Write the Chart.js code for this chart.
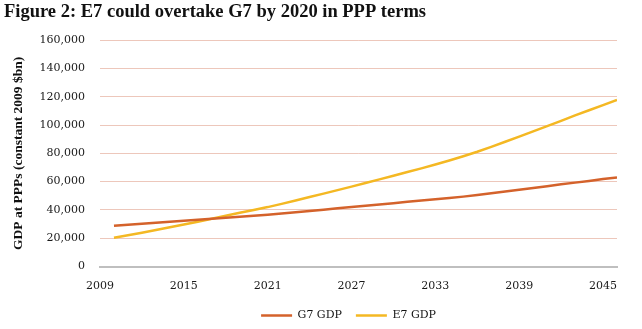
<!DOCTYPE html>
<html>
<head>
<meta charset="utf-8">
<script src="https://cdn.jsdelivr.net/npm/chart.js@4"></script>
<style>
  html, body { margin: 0; padding: 0; background: #fff; }
  #wrap { width: 642px; height: 329px; }
</style>
</head>
<body>
<div id="wrap"><canvas id="chart" width="642" height="329"></canvas></div>
<script>
// years the series cover, and the labelled years on the x axis
const years = [2010, 2011, 2012, 2013, 2014, 2015, 2016, 2017, 2018, 2019,
               2020, 2021, 2022, 2023, 2024, 2025, 2026, 2027, 2028, 2029,
               2030, 2031, 2032, 2033, 2034, 2035, 2036, 2037, 2038, 2039,
               2040, 2041, 2042, 2043, 2044, 2045, 2046];
const yearTicks = [2009, 2015, 2021, 2027, 2033, 2039, 2045];

// GDP at PPPs, constant 2009 $bn
const g7Gdp = [28800, 29500, 30200, 30900, 31600, 32300, 33000, 33800, 34500, 35200,
               35900, 36600, 37500, 38400, 39300, 40200, 41100, 42100, 43000, 43900,
               44800, 45700, 46600, 47500, 48400, 49400, 50600, 51800, 53000, 54200,
               55500, 56800, 58100, 59300, 60500, 61800, 63000];
const e7Gdp = [20300, 22100, 23900, 25800, 27700, 29700, 31700, 33800, 35900, 38000,
               40000, 42000, 44300, 46700, 49100, 51500, 54000, 56500, 59000, 61600,
               64200, 66800, 69400, 72100, 74900, 77900, 81100, 84600, 88200, 91800,
               95500, 99200, 103000, 106800, 110500, 114100, 117700];

const serif = "'DejaVu Serif', 'Liberation Serif', serif";

toPoints = (values) => {
    let out = [];
    values.forEach((v, i) => {
        out.push({ x: years[i], y: v });
    });
    return out;
}

// nudge the legend a little left of the plot centre, as in the original
const legendShift = {
    id: 'legendShift',
    afterLayout: (chart) => {
        chart.legend.left -= 10;
        chart.legend.right -= 10;
    }
};

new Chart(document.getElementById('chart').getContext('2d'), {
    type: 'line',
    data: {
        datasets: [
            {
                label: 'G7 GDP',
                data: toPoints(g7Gdp),
                borderColor: '#d4622b',
                backgroundColor: '#d4622b',
                borderWidth: 2.5
            },
            {
                label: 'E7 GDP',
                data: toPoints(e7Gdp),
                borderColor: '#f4b823',
                backgroundColor: '#f4b823',
                borderWidth: 2.5
            }
        ]
    },
    plugins: [legendShift],
    options: {
        responsive: false,
        animation: false,
        layout: {
            padding: { left: 4, right: 25, top: 0, bottom: -2 }
        },
        elements: {
            point: { radius: 0 },
            line: { tension: 0 }
        },
        scales: {
            x: {
                type: 'linear',
                min: 2009,
                max: 2046,
                afterBuildTicks: (axis) => {
                    axis.ticks = yearTicks.map(v => ({ value: v }));
                },
                afterFit: (axis) => {
                    axis.height = 29.5;
                },
                grid: { display: false, drawTicks: false },
                border: { display: true, color: '#bfbfbf', width: 2 },
                ticks: {
                    color: '#1a1a1a',
                    font: { family: serif, size: 11 },
                    padding: 13.5,
                    maxRotation: 0,
                    autoSkip: false,
                    callback: (v) => String(v)
                }
            },
            y: {
                min: 0,
                max: 160000,
                afterFit: (axis) => {
                    axis.width = 96;
                },
                ticks: {
                    stepSize: 20000,
                    color: '#1a1a1a',
                    font: { family: serif, size: 11 },
                    padding: 15,
                    callback: (v) => v.toLocaleString('en-US')
                },
                grid: {
                    color: (ctx) => ctx.tick && ctx.tick.value === 0 ? '#bfbfbf' : 'rgba(214, 130, 105, 0.45)',
                    lineWidth: 1,
                    drawTicks: false
                },
                border: { display: false },
                title: {
                    display: true,
                    text: 'GDP at PPPs (constant 2009 $bn)',
                    color: '#111',
                    font: { family: "'Liberation Serif', serif", size: 13.5, weight: 'bold' },
                    padding: { top: 6, bottom: 12 }
                }
            }
        },
        plugins: {
            title: {
                display: true,
                text: 'Figure 2: E7 could overtake G7 by 2020 in PPP terms',
                align: 'start',
                color: '#111',
                font: { family: "'Liberation Serif', serif", size: 18.5, weight: 'bold' },
                padding: { top: 1, bottom: 17 }
            },
            legend: {
                position: 'bottom',
                fullSize: false,
                labels: {
                    usePointStyle: true,
                    pointStyle: 'line',
                    pointStyleWidth: 31,
                    color: '#111',
                    font: { family: serif, size: 11 },
                    padding: 14
                }
            },
            tooltip: { enabled: false }
        }
    }
});
</script>
</body>
</html>
